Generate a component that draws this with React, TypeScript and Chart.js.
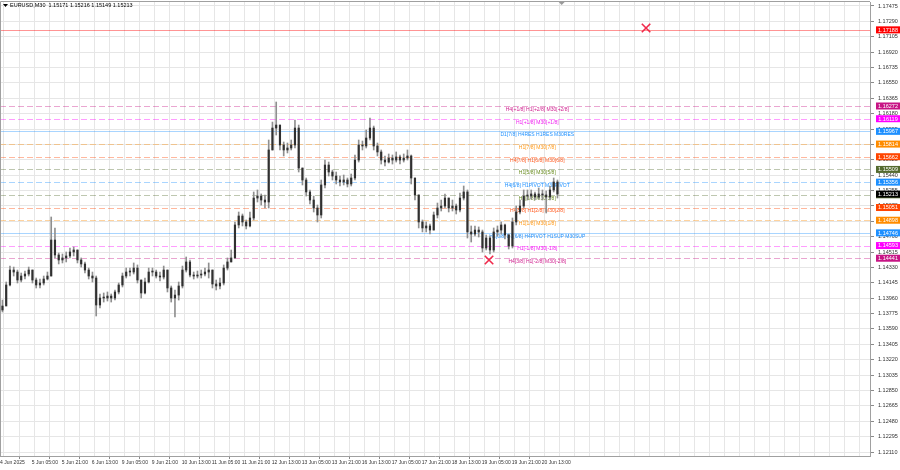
import React, { useEffect, useRef } from 'react';
import { Chart, registerables } from 'chart.js';

Chart.register(...registerables);

const FONT = '"Liberation Sans", Arial, sans-serif';

// 2-hour candles of EURUSD
const firstOpen = 1.13818;
const closes = [
  1.13866, 1.14119, 1.14299, 1.14275, 1.14179, 1.14227, 1.14251, 1.14299, 1.14179, 1.14119,
  1.14143, 1.14191, 1.14227, 1.14660, 1.14480, 1.14420, 1.14444, 1.14468, 1.14516, 1.14540,
  1.14420, 1.14372, 1.14299, 1.14227, 1.14203, 1.13878, 1.13962, 1.13962, 1.13986, 1.13962,
  1.14035, 1.14119, 1.14227, 1.14275, 1.14275, 1.14323, 1.14179, 1.14023, 1.14155, 1.14275,
  1.14275, 1.14227, 1.14215, 1.14299, 1.14083, 1.13962, 1.13998, 1.14107, 1.14299, 1.14396,
  1.14239, 1.14227, 1.14239, 1.14251, 1.14275, 1.14299, 1.14131, 1.14107, 1.14143, 1.14323,
  1.14396, 1.14444, 1.14841, 1.14949, 1.14877, 1.14829, 1.14925, 1.15165, 1.15189, 1.15141,
  1.15117, 1.15743, 1.16007, 1.16043, 1.15803, 1.15743, 1.15767, 1.15803, 1.16007, 1.15526,
  1.15382, 1.15238, 1.15141, 1.15045, 1.14961, 1.15322, 1.15562, 1.15478, 1.15430, 1.15382,
  1.15358, 1.15382, 1.15334, 1.15406, 1.15622, 1.15803, 1.15791, 1.15887, 1.16007, 1.15791,
  1.15719, 1.15622, 1.15598, 1.15646, 1.15622, 1.15659, 1.15622, 1.15646, 1.15671, 1.15406,
  1.15202, 1.14877, 1.14805, 1.14829, 1.14780, 1.14961, 1.15045, 1.15069, 1.15165, 1.15045,
  1.15069, 1.15021, 1.15165, 1.15238, 1.14757, 1.14732, 1.14780, 1.14757, 1.14564, 1.14684,
  1.14540, 1.14757, 1.14780, 1.14841, 1.14720, 1.14588, 1.14877, 1.14997, 1.15069, 1.15189,
  1.15189, 1.15214, 1.15177, 1.15214, 1.15202, 1.15177, 1.15262, 1.15358, 1.15213,
];
const highs = [
  1.13938, 1.14155, 1.14347, 1.14335, 1.14299, 1.14263, 1.14287, 1.14335, 1.14299, 1.14203,
  1.14191, 1.14227, 1.14275, 1.14937, 1.14805, 1.14504, 1.14492, 1.14516, 1.14564, 1.14576,
  1.14540, 1.14444, 1.14396, 1.14323, 1.14275, 1.14227, 1.14011, 1.14023, 1.14035, 1.14011,
  1.14059, 1.14143, 1.14263, 1.14323, 1.14323, 1.14384, 1.14360, 1.14179, 1.14203, 1.14323,
  1.14323, 1.14299, 1.14275, 1.14347, 1.14299, 1.14107, 1.14059, 1.14155, 1.14347, 1.14456,
  1.14420, 1.14275, 1.14287, 1.14299, 1.14323, 1.14384, 1.14299, 1.14179, 1.14203, 1.14360,
  1.14444, 1.14540, 1.14877, 1.14997, 1.14973, 1.14901, 1.14997, 1.15238, 1.15262, 1.15214,
  1.15202, 1.15863, 1.16079, 1.16320, 1.16043, 1.15839, 1.15827, 1.15863, 1.16103, 1.16043,
  1.15526, 1.15406, 1.15262, 1.15189, 1.15081, 1.15382, 1.15622, 1.15598, 1.15502, 1.15478,
  1.15430, 1.15442, 1.15406, 1.15454, 1.15683, 1.15863, 1.15851, 1.15983, 1.16127, 1.16031,
  1.15827, 1.15743, 1.15671, 1.15695, 1.15683, 1.15719, 1.15683, 1.15695, 1.15743, 1.15683,
  1.15406, 1.15202, 1.14901, 1.14877, 1.14853, 1.14997, 1.15105, 1.15141, 1.15214, 1.15165,
  1.15141, 1.15093, 1.15226, 1.15310, 1.15262, 1.14829, 1.14829, 1.14817, 1.14780, 1.14720,
  1.14708, 1.14805, 1.14829, 1.14877, 1.14853, 1.14732, 1.14925, 1.15069, 1.15141, 1.15262,
  1.15262, 1.15262, 1.15238, 1.15286, 1.15262, 1.15250, 1.15310, 1.15406, 1.15382,
];
const lows = [
  1.13794, 1.13878, 1.14107, 1.14227, 1.14143, 1.14155, 1.14191, 1.14227, 1.14143, 1.14083,
  1.14083, 1.14119, 1.14179, 1.14227, 1.14444, 1.14372, 1.14384, 1.14396, 1.14444, 1.14468,
  1.14384, 1.14335, 1.14263, 1.14191, 1.14155, 1.13746, 1.13842, 1.13914, 1.13926, 1.13914,
  1.13938, 1.14011, 1.14095, 1.14203, 1.14227, 1.14251, 1.14143, 1.13962, 1.14011, 1.14143,
  1.14227, 1.14203, 1.14167, 1.14191, 1.14035, 1.13914, 1.13734, 1.13938, 1.14083, 1.14275,
  1.14215, 1.14191, 1.14203, 1.14203, 1.14227, 1.14203, 1.14083, 1.14059, 1.14071, 1.14119,
  1.14299, 1.14396, 1.14444, 1.14805, 1.14829, 1.14793, 1.14817, 1.14901, 1.15117, 1.15081,
  1.15045, 1.15045, 1.15743, 1.15923, 1.15743, 1.15671, 1.15707, 1.15743, 1.15767, 1.15478,
  1.15322, 1.15189, 1.15093, 1.14997, 1.14877, 1.14925, 1.15286, 1.15430, 1.15382, 1.15334,
  1.15310, 1.15322, 1.15298, 1.15310, 1.15382, 1.15598, 1.15743, 1.15767, 1.15863, 1.15743,
  1.15671, 1.15574, 1.15550, 1.15586, 1.15574, 1.15598, 1.15574, 1.15598, 1.15622, 1.15334,
  1.15141, 1.14805, 1.14757, 1.14757, 1.14732, 1.14780, 1.14925, 1.15009, 1.15045, 1.14997,
  1.15009, 1.14973, 1.14997, 1.15141, 1.14684, 1.14636, 1.14708, 1.14696, 1.14516, 1.14540,
  1.14492, 1.14516, 1.14708, 1.14732, 1.14672, 1.14552, 1.14564, 1.14841, 1.14973, 1.15045,
  1.15141, 1.15153, 1.15141, 1.15153, 1.15141, 1.14985, 1.15141, 1.15238, 1.15165,
];
// candle i sits at M30 bar index firstCandleBar + i * barsPerCandle (bar 0 = 4 Jun 13:00)
const firstCandleBar = 5.5;
const barsPerCandle = 4;

// time axis: a label every 32 M30 bars, grid every 16
const xTickLabels = [
  '4 Jun 2025', '5 Jun 05:00', '5 Jun 21:00', '6 Jun 13:00', '9 Jun 05:00', '9 Jun 21:00',
  '10 Jun 13:00', '11 Jun 05:00', '11 Jun 21:00', '12 Jun 13:00', '13 Jun 05:00', '13 Jun 21:00',
  '16 Jun 13:00', '17 Jun 05:00', '17 Jun 21:00', '18 Jun 13:00', '19 Jun 05:00', '19 Jun 21:00',
  '20 Jun 13:00',
];
const yTickValues = [
  1.12110, 1.12295, 1.12480, 1.12665, 1.12850, 1.13035, 1.13220, 1.13405, 1.13590, 1.13775,
  1.13960, 1.14145, 1.14330, 1.14515, 1.14700, 1.14885, 1.15070, 1.15255, 1.15440, 1.15625,
  1.15810, 1.15995, 1.16180, 1.16365, 1.16550, 1.16735, 1.16920, 1.17105, 1.17290, 1.17475,
];

// Murrey-math style levels
const levelPrices = [
  1.17188, 1.16272, 1.16119, 1.15967, 1.15814, 1.15662, 1.15509,
  1.15356, 1.15204, 1.15051, 1.14898, 1.14746, 1.14593, 1.14441,
];
const levelTexts = [
  '', 'H4[+1/8] H1[+2/8] M30[+2/8]', 'H1[+1/8] M30[+1/8]', 'D1[7/8] H4RES H1RES M30RES',
  'H1[7/8] M30[7/8]', 'H4[7/8] H1[6/8] M30[6/8]', 'H1[5/8] M30[5/8]', 'H4[6/8] H1PIVOT M30PIVOT',
  'H1[3/8] M30[3/8]', 'H4[5/8] H1[2/8] M30[2/8]', 'H1[1/8] M30[1/8]',
  'H1[0/8] D1[6/8] H4PIVOT H1SUP M30SUP', 'H1[-1/8] M30[-1/8]', 'H4[3/8] H1[-2/8] M30[-2/8]',
];
const levelColors = [
  '#ff0000', '#c71585', '#ff00ff', '#1e90ff', '#ff8c00', '#ff4500', '#556b2f',
  '#1e90ff', '#556b2f', '#ff4500', '#ff8c00', '#1e90ff', '#ff00ff', '#c71585',
];
const levelTextColors = [
  '#ff0000', '#d0208f', '#f020f0', '#1e90ff', '#ff9a1a', '#ff5a20', '#6b8e23',
  '#1e90ff', '#6b8e23', '#ff5a20', '#ff9a1a', '#1e90ff', '#f020f0', '#d0208f',
];
const levelDashed = [false, true, true, false, true, true, true, true, true, true, true, false, true, true];
const levelTextBar = 576;

const bidPrice = 1.15213;
const markerBars = [692, 524.5];
const markerPrices = [1.1721, 1.1442];
const titleText = 'EURUSD,M30  1.15171 1.15216 1.15149 1.15213';

function rgba(hex: string, a: number) {
  const n = parseInt(hex.slice(1), 16);
  return `rgba(${(n >> 16) & 255},${(n >> 8) & 255},${n & 255},${a})`;
}

export default function App() {
  const ref = useRef<HTMLCanvasElement>(null);

  useEffect(() => {
    document.body.style.margin = '0';
    const opens = closes.map((c, i) => (i === 0 ? firstOpen : closes[i - 1]));
    const xs = closes.map((_, i) => firstCandleBar + i * barsPerCandle);
    const wickData = xs.map((x, i) => ({ x, y: [lows[i], highs[i]] }));
    const bodyData = xs.map((x, i) => ({ x, y: [opens[i], closes[i]] }));
    const markerData = markerBars.map((x, i) => ({ x, y: markerPrices[i] }));

    const xTicks: { value: number }[] = [{ value: -1.92 }];
    for (let b = 16; b <= 928; b += 16) xTicks.push({ value: b });

    const levelsPlugin = {
      id: 'levels',
      beforeDatasetsDraw(chart: any) {
        const { ctx, chartArea, scales } = chart;
        const y = scales.y;
        const x = scales.x;
        ctx.save();
        levelPrices.forEach((p, i) => {
          const py = Math.round(y.getPixelForValue(p)) + 0.5;
          ctx.strokeStyle = rgba(levelColors[i], i === 0 ? 0.42 : 0.38);
          ctx.lineWidth = 1;
          ctx.setLineDash(levelDashed[i] ? [6, 3] : []);
          ctx.beginPath();
          ctx.moveTo(chartArea.left, py);
          ctx.lineTo(chartArea.right, py);
          ctx.stroke();
        });
        ctx.setLineDash([]);
        ctx.font = `5px ${FONT}`;
        ctx.textAlign = 'center';
        ctx.textBaseline = 'top';
        const tx = x.getPixelForValue(levelTextBar);
        levelPrices.forEach((p, i) => {
          if (!levelTexts[i]) return;
          const py = y.getPixelForValue(p);
          ctx.fillStyle = levelTextColors[i];
          ctx.fillText(levelTexts[i], tx, py + 1);
        });
        ctx.restore();
      },
      afterDraw(chart: any) {
        const { ctx, chartArea, scales } = chart;
        const y = scales.y;
        const x = scales.x;
        ctx.save();
        // frame
        ctx.strokeStyle = '#a0a0a0';
        ctx.lineWidth = 1;
        ctx.beginPath();
        ctx.moveTo(chartArea.left + 0.5, chartArea.bottom);
        ctx.lineTo(chartArea.left + 0.5, chartArea.top - 0.5);
        ctx.lineTo(chartArea.right, chartArea.top - 0.5);
        ctx.stroke();
        // price boxes on the axis
        const box = (p: number, color: string) => {
          const py = y.getPixelForValue(p);
          ctx.fillStyle = color;
          ctx.fillRect(chartArea.right + 6, py - 3.5, 24, 7);
          ctx.fillStyle = '#ffffff';
          ctx.font = `5.5px ${FONT}`;
          ctx.textAlign = 'center';
          ctx.textBaseline = 'middle';
          ctx.fillText(p.toFixed(5), chartArea.right + 18, py + 0.3);
        };
        levelPrices.forEach((p, i) => box(p, levelColors[i]));
        box(bidPrice, '#000000');
        // title
        ctx.fillStyle = '#000';
        ctx.beginPath();
        ctx.moveTo(3, 4);
        ctx.lineTo(8, 4);
        ctx.lineTo(5.5, 7);
        ctx.closePath();
        ctx.fill();
        ctx.font = `5.5px ${FONT}`;
        ctx.textAlign = 'left';
        ctx.textBaseline = 'middle';
        ctx.fillText(titleText, 10, 5.5);
        // chart shift marker
        const sx = x.getPixelForValue(602);
        ctx.fillStyle = '#9a9a9a';
        ctx.beginPath();
        ctx.moveTo(sx - 3, chartArea.top);
        ctx.lineTo(sx + 3, chartArea.top);
        ctx.lineTo(sx, chartArea.top + 3);
        ctx.closePath();
        ctx.fill();
        ctx.restore();
      },
    };

    const chart = new Chart(ref.current as HTMLCanvasElement, {
      type: 'bar',
      data: {
        datasets: [
          {
            type: 'bar',
            data: wickData as any,
            backgroundColor: '#8f8f8f',
            barThickness: 1,
            grouped: false,
            order: 3,
          } as any,
          {
            type: 'bar',
            data: bodyData as any,
            backgroundColor: '#303030',
            barThickness: 1.5,
            minBarLength: 1,
            grouped: false,
            order: 2,
          } as any,
          {
            type: 'scatter',
            data: markerData,
            pointStyle: 'crossRot',
            pointRadius: 6,
            borderColor: '#f0284a',
            borderWidth: 1.6,
            clip: false,
            order: 1,
          } as any,
        ],
      },
      options: {
        responsive: false,
        animation: false,
        devicePixelRatio: 1,
        events: [],
        layout: { autoPadding: false, padding: { top: 2, left: 0, right: 0, bottom: 0 } },
        plugins: { legend: { display: false }, tooltip: { enabled: false } },
        scales: {
          x: {
            type: 'linear',
            min: 2.88,
            max: 930.88,
            offset: false,
            position: 'bottom',
            grid: {
              color: '#e6e6e6',
              lineWidth: 1,
              tickLength: 3,
              tickColor: (c: any) => (c.tick && c.tick.label ? '#8a8a8a' : 'rgba(0,0,0,0)'),
            },
            border: { display: true, color: '#a0a0a0' },
            ticks: {
              autoSkip: false,
              maxRotation: 0,
              minRotation: 0,
              align: 'start',
              labelOffset: 4.5,
              padding: 1,
              color: '#333',
              font: { family: FONT, size: 5 },
              callback: (v: any) => {
                const val = Number(v);
                if (val < 0) return xTickLabels[0];
                if (val % 32 === 0) return xTickLabels[val / 32] || '';
                return '';
              },
            },
            afterBuildTicks: (s: any) => {
              s.ticks = xTicks.map((t) => ({ value: t.value }));
            },
            afterFit: (s: any) => {
              s.height = 14;
              s.paddingLeft = 0;
              s.paddingRight = 0;
            },
          } as any,
          y: {
            type: 'linear',
            position: 'right',
            min: 1.12062,
            max: 1.17523,
            grid: { color: '#e6e6e6', lineWidth: 1, tickLength: 4, tickColor: '#8a8a8a' },
            border: { display: true, color: '#a0a0a0' },
            ticks: {
              autoSkip: false,
              padding: 4,
              color: '#333',
              font: { family: FONT, size: 5.5 },
              callback: (v: any) => Number(v).toFixed(5),
            },
            afterBuildTicks: (s: any) => {
              s.ticks = yTickValues.map((v) => ({ value: v }));
            },
            afterFit: (s: any) => {
              s.width = 30;
              s.paddingTop = 0;
              s.paddingBottom = 0;
            },
          } as any,
        },
      },
      plugins: [levelsPlugin],
    });
    return () => chart.destroy();
  }, []);

  return (
    <div style={{ position: 'fixed', left: 0, top: 0, width: 900, height: 470, background: '#fff' }}>
      <canvas ref={ref} width={900} height={470} style={{ display: 'block', width: 900, height: 470 }} />
    </div>
  );
}
